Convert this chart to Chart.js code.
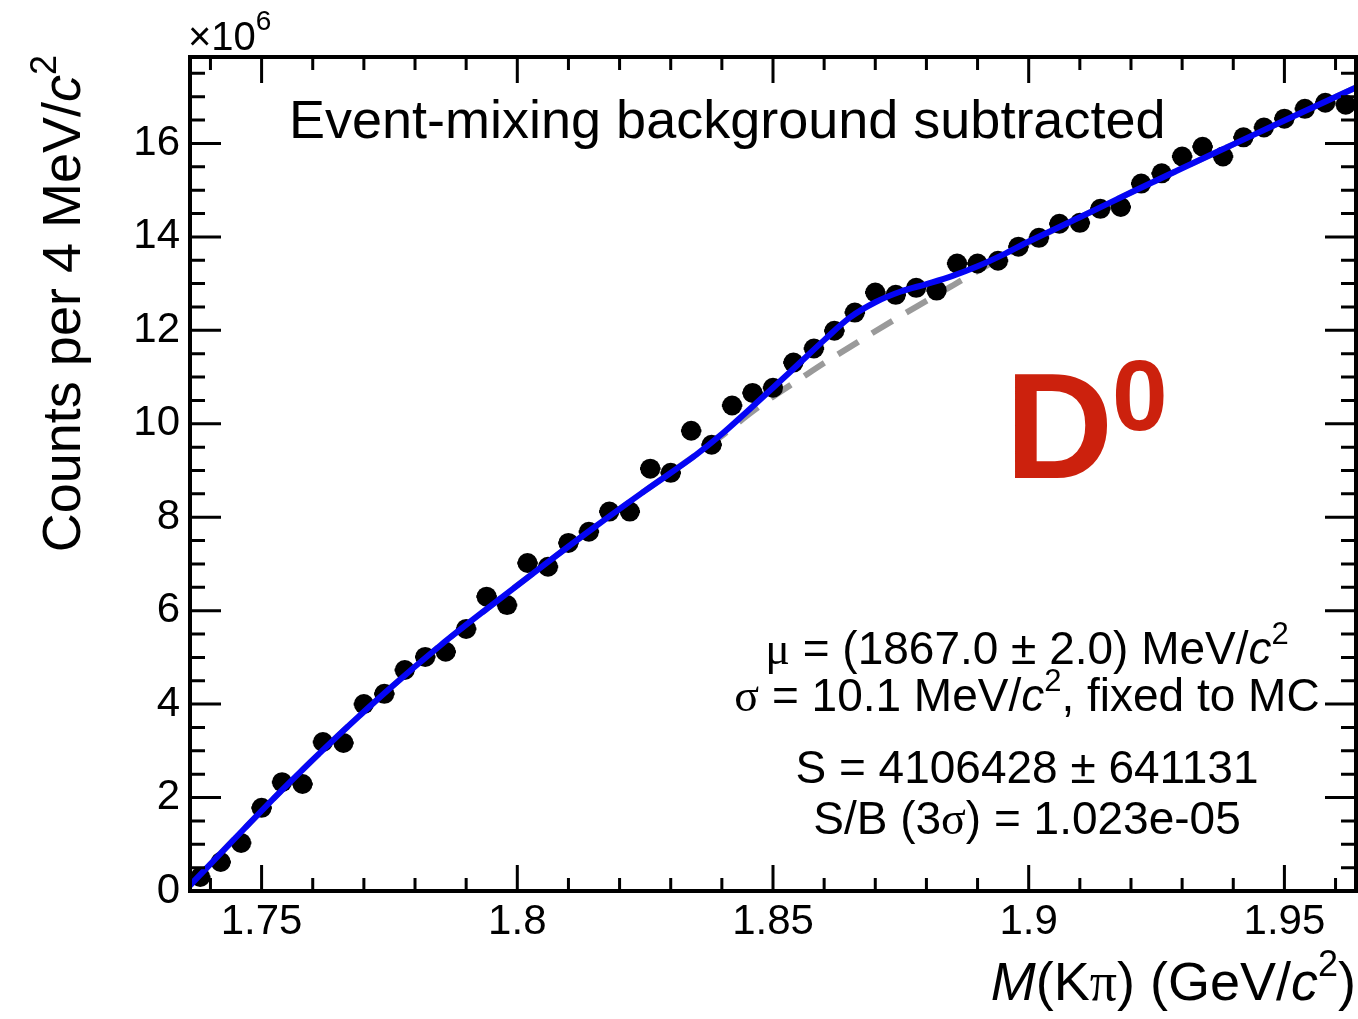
<!DOCTYPE html>
<html>
<head>
<meta charset="utf-8">
<script src="https://cdn.jsdelivr.net/npm/chart.js@4.4.1/dist/chart.umd.min.js"></script>
<style>
  html, body { margin: 0; padding: 0; background: #fff; }
  #wrap { width: 1358px; height: 1019px; }
</style>
</head>
<body>
<div id="wrap"><canvas id="chart" width="1358" height="1019"></canvas></div>
<script>
// K-pi invariant mass, 4 MeV bins (GeV)
const massBins = [
  1.738, 1.742, 1.746, 1.750, 1.754, 1.758, 1.762, 1.766, 1.770, 1.774,
  1.778, 1.782, 1.786, 1.790, 1.794, 1.798, 1.802, 1.806, 1.810, 1.814,
  1.818, 1.822, 1.826, 1.830, 1.834, 1.838, 1.842, 1.846, 1.850, 1.854,
  1.858, 1.862, 1.866, 1.870, 1.874, 1.878, 1.882, 1.886, 1.890, 1.894,
  1.898, 1.902, 1.906, 1.910, 1.914, 1.918, 1.922, 1.926, 1.930, 1.934,
  1.938, 1.942, 1.946, 1.950, 1.954, 1.958, 1.962
];
// counts per bin, in units of 10^6
const counts = [
  0.30, 0.62, 1.03, 1.78, 2.33, 2.29, 3.19, 3.17, 4.00, 4.22,
  4.73, 5.01, 5.12, 5.61, 6.30, 6.12, 7.02, 6.94, 7.45, 7.69,
  8.12, 8.12, 9.04, 8.95, 9.85, 9.55, 10.39, 10.66, 10.77, 11.31,
  11.61, 11.99, 12.38, 12.81, 12.76, 12.91, 12.85, 13.43, 13.43, 13.49,
  13.79, 13.98, 14.28, 14.30, 14.60, 14.64, 15.14, 15.36, 15.72, 15.93,
  15.72, 16.13, 16.34, 16.53, 16.74, 16.87, 16.83
];
const halfBin = 0.002;

// signal + background fit curve
const fitMass = [
  1.736, 1.745, 1.755, 1.765, 1.775, 1.785, 1.795, 1.805, 1.815, 1.825,
  1.835, 1.840, 1.845, 1.850, 1.855, 1.860, 1.865, 1.870, 1.875, 1.880,
  1.885, 1.890, 1.895, 1.900, 1.910, 1.920, 1.930, 1.940, 1.950, 1.964
];
const fitTotal = [
  0.12, 1.15, 2.27, 3.33, 4.33, 5.26, 6.12, 6.96, 7.78, 8.57,
  9.34, 9.78, 10.27, 10.77, 11.28, 11.79, 12.27, 12.60, 12.83, 12.99,
  13.16, 13.37, 13.62, 13.90, 14.42, 14.95, 15.47, 15.98, 16.49, 17.20
];
// background-only component
const fitBkg = [
  0.12, 1.15, 2.27, 3.33, 4.33, 5.26, 6.12, 6.96, 7.78, 8.57,
  9.34, 9.74, 10.18, 10.58, 10.94, 11.30, 11.64, 11.98, 12.31, 12.63,
  12.95, 13.27, 13.58, 13.88, 14.42, 14.95, 15.47, 15.98, 16.49, 17.20
];

const xTicks = [1.75, 1.80, 1.85, 1.90, 1.95];
const xTickLabels = ["1.75", "1.8", "1.85", "1.9", "1.95"];
const yTicks = [0, 2, 4, 6, 8, 10, 12, 14, 16];
const yTickLabels = ["0", "2", "4", "6", "8", "10", "12", "14", "16"];

const SANS = '"Liberation Sans", Arial, Helvetica, sans-serif';
const SERIF = '"Liberation Serif", "Times New Roman", serif';

function pts(xs, ys) {
  return xs.map((x, i) => ({ x: x, y: ys[i] }));
}

// text runs: [text, font, raise]
function drawRich(ctx, parts, x, y, align) {
  let w = 0;
  parts.forEach(p => { ctx.font = p[1]; w += ctx.measureText(p[0]).width; });
  let cx = align === 'center' ? x - w / 2 : align === 'right' ? x - w : x;
  ctx.textAlign = 'left';
  ctx.textBaseline = 'alphabetic';
  parts.forEach(p => {
    ctx.font = p[1];
    ctx.fillText(p[0], cx, y - (p[2] || 0));
    cx += ctx.measureText(p[0]).width;
  });
}

const errorBars = {
  id: 'errorBars',
  beforeDatasetsDraw(chart) {
    const ctx = chart.ctx, xs = chart.scales.x, ys = chart.scales.y;
    ctx.save();
    ctx.strokeStyle = '#000';
    ctx.lineWidth = 3;
    massBins.forEach((m, i) => {
      const py = ys.getPixelForValue(counts[i]);
      ctx.beginPath();
      ctx.moveTo(xs.getPixelForValue(m - halfBin), py);
      ctx.lineTo(xs.getPixelForValue(m + halfBin), py);
      ctx.stroke();
    });
    ctx.restore();
  }
};

const frame = {
  id: 'frame',
  afterDraw(chart) {
    const ctx = chart.ctx, a = chart.chartArea;
    const xs = chart.scales.x, ys = chart.scales.y;
    ctx.save();
    ctx.strokeStyle = '#000';

    // inward tick marks on all four sides
    ctx.lineWidth = 3;
    for (let k = 0; k <= 22; k++) {
      const v = 1.74 + k * 0.01;
      const px = xs.getPixelForValue(v);
      const major = xTicks.some(t => Math.abs(t - v) < 1e-6);
      const len = major ? 26 : 13;
      ctx.beginPath();
      ctx.moveTo(px, a.bottom); ctx.lineTo(px, a.bottom - len);
      ctx.moveTo(px, a.top); ctx.lineTo(px, a.top + len);
      ctx.stroke();
    }
    for (let k = 0; k <= 35; k++) {
      const v = k * 0.5;
      const py = ys.getPixelForValue(v);
      const len = (k % 4 === 0) ? 31 : 15;
      ctx.beginPath();
      ctx.moveTo(a.left, py); ctx.lineTo(a.left + len, py);
      ctx.moveTo(a.right, py); ctx.lineTo(a.right - len, py);
      ctx.stroke();
    }

    ctx.lineWidth = 4;
    ctx.strokeRect(a.left, a.top, a.right - a.left, a.bottom - a.top);

    ctx.fillStyle = '#000';
    // exponent label
    drawRich(ctx, [['\u00d710', '40px ' + SANS], ['6', '28px ' + SANS, 20]], 188, 50, 'left');

    // headline
    drawRich(ctx, [['Event-mixing background subtracted', '54px ' + SANS]], 289, 138, 'left');

    // fit results
    const f = '46px ' + SANS, fi = 'italic 46px ' + SANS, fs = '46px ' + SERIF, sup = '31px ' + SANS;
    drawRich(ctx, [['\u03bc', fs], [' = (1867.0 \u00b1 2.0) MeV/', f], ['c', fi], ['2', sup, 20]], 1027, 664, 'center');
    drawRich(ctx, [['\u03c3', fs], [' = 10.1 MeV/', f], ['c', fi], ['2', sup, 20], [', fixed to MC', f]], 1027, 711, 'center');
    drawRich(ctx, [['S = 4106428 \u00b1 641131', f]], 1027, 783, 'center');
    drawRich(ctx, [['S/B (3', f], ['\u03c3', fs], [') = 1.023e-05', f]], 1027, 834, 'center');

    // particle label
    ctx.fillStyle = '#cc210d';
    drawRich(ctx, [['D', 'bold 150px ' + SANS]], 1005, 478, 'left');
    drawRich(ctx, [['0', 'bold 100px ' + SANS]], 1112, 430, 'left');

    // axis titles
    ctx.fillStyle = '#000';
    const t = '54px ' + SANS, ti = 'italic 54px ' + SANS, ts = '54px ' + SERIF, tsup = '36px ' + SANS;
    drawRich(ctx, [['M', ti], ['(K', t], ['\u03c0', ts], [') (GeV/', t], ['c', ti], ['2', tsup, 24], [')', t]], 1356, 1000, 'right');

    ctx.save();
    ctx.translate(80, 55);
    ctx.rotate(-Math.PI / 2);
    drawRich(ctx, [['Counts per 4 MeV/', t], ['c', ti], ['2', tsup, 24]], 0, 0, 'right');
    ctx.restore();

    ctx.restore();
  }
};

new Chart(document.getElementById('chart'), {
  type: 'scatter',
  data: {
    datasets: [
      {
        data: pts(fitMass, fitTotal),
        showLine: true,
        borderColor: 'rgb(5,5,245)',
        borderWidth: 6,
        pointRadius: 0,
        cubicInterpolationMode: 'monotone',
        order: 0
      },
      {
        data: pts(massBins, counts),
        showLine: false,
        backgroundColor: '#000',
        borderColor: '#000',
        pointRadius: 10,
        pointBorderWidth: 0,
        order: 1
      },
      {
        data: pts(fitMass, fitBkg),
        showLine: true,
        borderColor: '#9a9a9a',
        borderWidth: 6,
        borderDash: [24, 16],
        pointRadius: 0,
        cubicInterpolationMode: 'monotone',
        order: 2
      }
    ]
  },
  options: {
    responsive: false,
    animation: false,
    layout: { autoPadding: false, padding: { top: 57, right: 2, left: 0, bottom: 0 } },
    plugins: { legend: { display: false }, tooltip: { enabled: false } },
    scales: {
      x: {
        type: 'linear',
        min: 1.736,
        max: 1.964,
        afterBuildTicks: s => { s.ticks = xTicks.map(v => ({ value: v })); },
        afterFit: s => { s.height = 128; },
        grid: { display: false, drawTicks: false },
        border: { display: false },
        ticks: {
          color: '#000',
          font: { family: SANS, size: 42 },
          padding: 6,
          maxRotation: 0,
          callback: (v, i) => xTickLabels[i]
        }
      },
      y: {
        type: 'linear',
        min: 0,
        max: 17.85,
        afterBuildTicks: s => { s.ticks = yTicks.map(v => ({ value: v })); },
        afterFit: s => { s.width = 190; },
        grid: { display: false, drawTicks: false },
        border: { display: false },
        ticks: {
          color: '#000',
          font: { family: SANS, size: 42 },
          padding: 10,
          callback: (v, i) => yTickLabels[i]
        }
      }
    }
  },
  plugins: [errorBars, frame]
});
</script>
</body>
</html>
